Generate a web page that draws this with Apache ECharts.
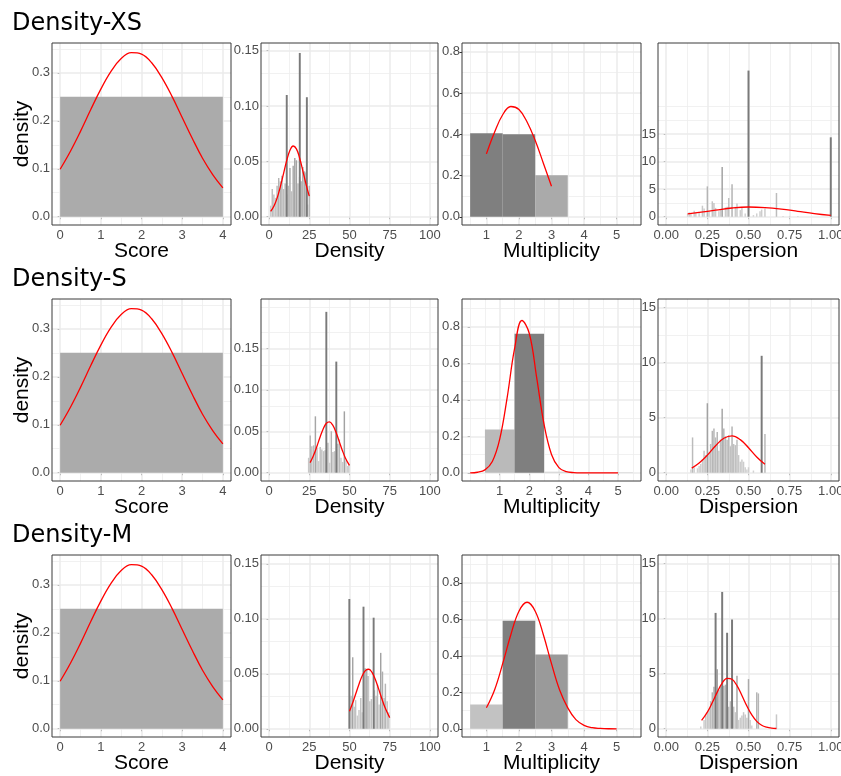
<!DOCTYPE html>
<html>
<head>
<meta charset="utf-8">
<script src="https://cdn.jsdelivr.net/npm/echarts@6/dist/echarts.min.js"></script>
<style>
  html, body { margin: 0; padding: 0; background: #fff; }
  #main { width: 841px; height: 776px; }
</style>
</head>
<body>
<div id="main"></div>
<script>
// ---- texts ----
const rowTitles = ['Density-XS', 'Density-S', 'Density-M'];
const xTitles = ['Score', 'Density', 'Multiplicity', 'Dispersion'];
const yTitle = 'density';

// ---- tick labels ----
const scoreTicks = [0, 1, 2, 3, 4];
const densityTicks = [0, 25, 50, 75, 100];
const multiplicityTicks = [1, 2, 3, 4, 5];
const dispersionTicks = [0, 0.25, 0.5, 0.75, 1];
const scoreYTicks = [0, 0.1, 0.2, 0.3];
const densityYTicks = [0, 0.05, 0.1, 0.15];
const multiplicityYTicks = [0, 0.2, 0.4, 0.6, 0.8];
const dispersionYTicks = [0, 5, 10, 15];

// ---- Score (same in every row) ----
const scoreBinStart = [0];
const scoreBinEnd = [4];
const scoreHeight = [0.25];
const scoreCurveX = [0, 0.25, 0.5, 0.75, 1, 1.25, 1.5, 1.75, 2, 2.25, 2.5, 2.75, 3, 3.25, 3.5, 3.75, 4];
const scoreCurveY = [0.099, 0.136, 0.178, 0.223, 0.266, 0.303, 0.330, 0.342, 0.339, 0.321, 0.290, 0.251, 0.207, 0.163, 0.122, 0.088, 0.060];

// ---- Density ----
const densityXsX = [1, 2, 3, 4, 5, 6, 7, 8, 9, 10, 11, 12, 13, 14, 15, 16, 17, 18, 19, 20, 21, 22, 23, 24, 25];
const densityXsY = [0.010, 0.025, 0.020, 0.017, 0.028, 0.035, 0.032, 0.037, 0.025, 0.030, 0.020, 0.028, 0.044, 0.023, 0.046, 0.053, 0.051, 0.030, 0.036, 0.032, 0.045, 0.041, 0.040, 0.011, 0.028];
const densityXsSpikeX = [11.0, 19.1, 23.5];
const densityXsSpikeY = [0.110, 0.148, 0.108];
const densityXsCurveX = [1, 3, 5, 7, 9, 11, 13, 15, 17, 19, 21, 23, 25];
const densityXsCurveY = [0.0048, 0.0094, 0.0168, 0.0270, 0.0390, 0.0509, 0.0601, 0.0639, 0.0613, 0.0531, 0.0415, 0.0293, 0.0186];

const densitySX = [24.6, 25.6, 26.6, 27.7, 28.8, 29.8, 30.8, 31.8, 32.8, 33.9, 34.8, 36.6, 37.6, 38.7, 39.7, 40.7, 42.7, 43.7, 44.7, 45.7, 46.8, 47.8, 48.9, 49.6];
const densitySY = [0.018, 0.045, 0.032, 0.033, 0.068, 0.030, 0.014, 0.031, 0.028, 0.026, 0.027, 0.036, 0.012, 0.050, 0.025, 0.026, 0.035, 0.040, 0.018, 0.013, 0.074, 0.015, 0.008, 0.010];
const densitySSpikeX = [35.6, 41.8];
const densitySSpikeY = [0.194, 0.134];
const densitySCurveX = [25.5, 27.5, 29.5, 31.5, 33.5, 35.5, 37.5, 39.5, 41.5, 43.5, 45.5, 47.5, 50];
const densitySCurveY = [0.0122, 0.0202, 0.0304, 0.0418, 0.0522, 0.0593, 0.0613, 0.0577, 0.0493, 0.0384, 0.0272, 0.0175, 0.0088];

const densityMX = [51, 52, 53, 53.8, 54.9, 55.9, 57, 57.8, 59.7, 60.7, 61.5, 62.6, 63.6, 65.5, 66.5, 67.4, 68.4, 69.4, 70.5, 71.5, 72.3, 73.4, 74.4];
const densityMY = [0.030, 0.065, 0.020, 0.026, 0.012, 0.017, 0.028, 0.015, 0.055, 0.054, 0.048, 0.025, 0.027, 0.035, 0.030, 0.040, 0.022, 0.069, 0.052, 0.028, 0.041, 0.025, 0.015];
const densityMSpikeX = [49.9, 58.7, 65.0];
const densityMSpikeY = [0.118, 0.111, 0.101];
const densityMCurveX = [50, 52, 54, 56, 58, 60, 62, 64, 66, 68, 70, 72, 75];
const densityMCurveY = [0.0160, 0.0236, 0.0323, 0.0410, 0.0484, 0.0531, 0.0541, 0.0512, 0.0450, 0.0367, 0.0278, 0.0196, 0.0101];

// ---- Multiplicity ----
const multiplicityBinStart = [0.5, 1.5, 2.5, 3.5, 4.5];
const multiplicityBinEnd = [1.5, 2.5, 3.5, 4.5, 5.5];
const multiplicityXsY = [0.405, 0.400, 0.201];
const multiplicitySY = [0.237, 0.762, 0.006, 0.003, 0.003];
const multiplicityMY = [0.133, 0.593, 0.407, 0.003, 0.003];
const multiplicityXsCurveX = [1, 1.25, 1.5, 1.75, 2, 2.25, 2.5, 2.75, 3];
const multiplicityXsCurveY = [0.305, 0.410, 0.495, 0.535, 0.520, 0.460, 0.370, 0.260, 0.148];
const multiplicitySCurveX = [0, 0.25, 0.5, 0.75, 1, 1.25, 1.5, 1.75, 2, 2.25, 2.5, 2.75, 3, 3.25, 3.5, 3.75, 4, 4.25, 4.5, 4.75, 5];
const multiplicitySCurveY = [0, 0.003, 0.016, 0.062, 0.185, 0.411, 0.679, 0.835, 0.764, 0.521, 0.264, 0.100, 0.028, 0.006, 0.001, 0, 0, 0, 0, 0, 0];
const multiplicityMCurveX = [1, 1.25, 1.5, 1.75, 2, 2.25, 2.5, 2.75, 3, 3.25, 3.5, 3.75, 4, 4.25, 4.5, 4.75, 5];
const multiplicityMCurveY = [0.115, 0.213, 0.357, 0.516, 0.645, 0.694, 0.645, 0.516, 0.357, 0.213, 0.115, 0.050, 0.019, 0.006, 0.002, 0.0003, 0];

// ---- Dispersion ----
const dispersionXsX = [0.13, 0.14, 0.15, 0.17, 0.18, 0.20, 0.22, 0.23, 0.25, 0.26, 0.28, 0.29, 0.30, 0.32, 0.33, 0.34, 0.36, 0.37, 0.38, 0.40, 0.42, 0.43, 0.45, 0.46, 0.48, 0.53, 0.55, 0.57, 0.58, 0.60, 0.67, 0.71, 0.75, 0.80];
const dispersionXsY = [0.5, 0.8, 0.6, 1.1, 0.7, 0.8, 2.0, 1.5, 5.5, 1.0, 2.8, 2.5, 1.6, 1.0, 1.2, 9.0, 1.7, 1.8, 3.4, 5.9, 1.8, 2.4, 1.2, 1.6, 0.6, 0.3, 0.6, 1.0, 1.3, 1.5, 4.3, 0.15, 0.15, 0.15];
const dispersionXsSpikeX = [0.5, 1.0];
const dispersionXsSpikeY = [26.5, 14.4];
const dispersionXsCurveX = [0.13, 0.2, 0.3, 0.4, 0.5, 0.6, 0.7, 0.8, 0.9, 1.0];
const dispersionXsCurveY = [0.50, 0.78, 1.18, 1.58, 1.76, 1.66, 1.38, 0.98, 0.58, 0.24];

const dispersionSX = [0.15, 0.16, 0.17, 0.19, 0.20, 0.21, 0.22, 0.23, 0.24, 0.25, 0.26, 0.27, 0.28, 0.29, 0.30, 0.31, 0.32, 0.33, 0.34, 0.35, 0.36, 0.37, 0.38, 0.39, 0.40, 0.41, 0.42, 0.43, 0.44, 0.45, 0.46, 0.47, 0.48, 0.49, 0.50, 0.53, 0.60];
const dispersionSY = [0.3, 3.2, 0.5, 0.4, 0.6, 0.8, 1.2, 2.0, 1.6, 6.3, 1.8, 2.6, 3.8, 4.0, 3.2, 3.7, 2.0, 3.0, 5.8, 4.0, 3.3, 3.0, 3.4, 2.4, 4.2, 2.6, 2.5, 3.0, 1.6, 1.0, 1.2, 1.0, 0.5, 0.3, 0.5, 0.2, 3.5];
const dispersionSSpikeX = [0.58];
const dispersionSSpikeY = [10.6];
const dispersionSCurveX = [0.155, 0.2, 0.25, 0.3, 0.35, 0.4, 0.45, 0.5, 0.55, 0.6];
const dispersionSCurveY = [0.42, 0.88, 1.60, 2.45, 3.13, 3.35, 3.00, 2.27, 1.43, 0.76];

const dispersionMX = [0.21, 0.23, 0.24, 0.25, 0.26, 0.27, 0.28, 0.29, 0.31, 0.32, 0.33, 0.35, 0.36, 0.38, 0.39, 0.41, 0.42, 0.43, 0.44, 0.45, 0.46, 0.47, 0.48, 0.49, 0.50, 0.51, 0.52, 0.55, 0.56, 0.67];
const dispersionMY = [0.2, 0.8, 1.2, 1.5, 1.8, 2.5, 3.3, 3.8, 5.4, 3.5, 3.8, 3.9, 4.0, 2.0, 2.5, 2.0, 1.5, 4.8, 0.8, 1.0, 1.2, 1.5, 1.3, 1.0, 4.5, 0.8, 0.3, 3.3, 3.2, 1.3];
const dispersionMSpikeX = [0.30, 0.34, 0.37, 0.40];
const dispersionMSpikeY = [10.5, 12.4, 8.7, 9.9];
const dispersionMCurveX = [0.215, 0.25, 0.28, 0.31, 0.34, 0.37, 0.40, 0.43, 0.46, 0.49, 0.52, 0.55, 0.58, 0.61, 0.64, 0.67];
const dispersionMCurveY = [0.75, 1.50, 2.37, 3.32, 4.14, 4.57, 4.48, 3.90, 3.01, 2.06, 1.25, 0.67, 0.32, 0.14, 0.05, 0.02];

// ---- layout ----
const colLeft = [52, 261, 462, 658];
const colWidth = [179, 177, 179, 181];
const rowTop = [43, 299, 555];
const panelHeight = 182;

const xRange = [
  [[-0.2, 4.2], [-5, 105], [0.25, 5.75], [-0.05, 1.05]],
  [[-0.2, 4.2], [-5, 105], [-0.275, 5.775], [-0.05, 1.05]],
  [[-0.2, 4.2], [-5, 105], [0.25, 5.75], [-0.05, 1.05]]
];
const yRange = [
  [[-0.01725, 0.36225], [-0.0075, 0.157], [-0.04, 0.843], [-1.5, 31.5]],
  [[-0.01725, 0.36225], [-0.01, 0.2095], [-0.045, 0.953], [-0.75, 15.75]],
  [[-0.01725, 0.36225], [-0.0075, 0.158], [-0.045, 0.953], [-0.75, 15.75]]
];
const xTickSets = [scoreTicks, densityTicks, multiplicityTicks, dispersionTicks];
const yTickSets = [scoreYTicks, densityYTicks, multiplicityYTicks, dispersionYTicks];
const xFormat = [v => String(v), v => String(v), v => String(v), v => v.toFixed(2)];
const yFormat = [v => v.toFixed(1), v => v.toFixed(2), v => v.toFixed(1), v => String(v)];

const densityRows = [
  [densityXsX, densityXsY, densityXsSpikeX, densityXsSpikeY, densityXsCurveX, densityXsCurveY],
  [densitySX, densitySY, densitySSpikeX, densitySSpikeY, densitySCurveX, densitySCurveY],
  [densityMX, densityMY, densityMSpikeX, densityMSpikeY, densityMCurveX, densityMCurveY]
];
const dispersionRows = [
  [dispersionXsX, dispersionXsY, dispersionXsSpikeX, dispersionXsSpikeY, dispersionXsCurveX, dispersionXsCurveY],
  [dispersionSX, dispersionSY, dispersionSSpikeX, dispersionSSpikeY, dispersionSCurveX, dispersionSCurveY],
  [dispersionMX, dispersionMY, dispersionMSpikeX, dispersionMSpikeY, dispersionMCurveX, dispersionMCurveY]
];
const multiplicityRows = [
  [multiplicityXsY, multiplicityXsCurveX, multiplicityXsCurveY],
  [multiplicitySY, multiplicitySCurveX, multiplicitySCurveY],
  [multiplicityMY, multiplicityMCurveX, multiplicityMCurveY]
];

const grey = v => { v = Math.round(v); return 'rgb(' + v + ',' + v + ',' + v + ')'; };
const tickFont = 'Liberation Sans, Arial, sans-serif';

// ggplot-like grid breaks: majors at ticks, minors halfway (plus one extended step)
function gridLines(ticks, min, max) {
  const step = ticks[1] - ticks[0];
  const b = ticks.slice();
  if (min < b[0]) b.unshift(b[0] - step);
  if (max > b[b.length - 1]) b.push(b[b.length - 1] + step);
  const minor = [];
  for (let i = 0; i < b.length - 1; i++) minor.push(b[i] + step / 2);
  minor.push(b[0], b[b.length - 1]);
  const inside = v => v >= min && v <= max;
  return {
    major: ticks.filter(inside),
    minor: minor.filter(v => inside(v) && ticks.indexOf(v) < 0)
  };
}

function histRender(colorOf) {
  return function (params, api) {
    const a = api.coord([api.value(0), api.value(2)]);
    const b = api.coord([api.value(1), 0]);
    return {
      type: 'rect',
      shape: { x: a[0], y: a[1], width: b[0] - a[0], height: b[1] - a[1] },
      style: { fill: colorOf(api.value(2)) }
    };
  };
}

const grids = [], xAxes = [], yAxes = [], series = [], titles = [];

rowTitles.forEach((t, r) => {
  titles.push({
    text: t, left: 12, top: rowTop[r] - 31, padding: 0,
    textStyle: { fontFamily: 'DejaVu Sans', fontSize: 24, fontWeight: 'normal', color: '#000' }
  });
});

for (let r = 0; r < 3; r++) {
  for (let c = 0; c < 4; c++) {
    const idx = grids.length;
    const [xMin, xMax] = xRange[r][c];
    const [yMin, yMax] = yRange[r][c];
    grids.push({
      left: colLeft[c], top: rowTop[r], width: colWidth[c], height: panelHeight,
      show: true, backgroundColor: 'transparent', borderColor: '#3a3a3a', borderWidth: 1,
      z: 20, containLabel: false, outerBoundsMode: 'none'
    });
    xAxes.push({
      type: 'value', gridIndex: idx, min: xMin, max: xMax,
      axisLine: { show: false }, splitLine: { show: false },
      axisTick: { show: true, length: 2.5, lineStyle: { color: '#333' }, customValues: xTickSets[c] },
      axisLabel: { customValues: xTickSets[c], formatter: xFormat[c], color: '#4d4d4d', fontSize: 13, fontFamily: tickFont, margin: 4 },
      name: xTitles[c], nameLocation: 'middle', nameGap: 16, nameMoveOverlap: false,
      nameTextStyle: { color: '#000', fontSize: 21, fontFamily: tickFont }
    });
    const yAxis = {
      type: 'value', gridIndex: idx, min: yMin, max: yMax,
      axisLine: { show: false }, splitLine: { show: false },
      axisTick: { show: true, length: 2.5, lineStyle: { color: '#333' }, customValues: yTickSets[c] },
      axisLabel: { customValues: yTickSets[c], formatter: yFormat[c], color: '#4d4d4d', fontSize: 13, fontFamily: tickFont, margin: 2 }
    };
    if (c === 0) {
      Object.assign(yAxis, {
        name: yTitle, nameLocation: 'middle', nameRotate: 90, nameGap: 19, nameMoveOverlap: false,
        nameTextStyle: { color: '#000', fontSize: 21, fontFamily: tickFont }
      });
    }
    yAxes.push(yAxis);

    // background grid
    const gx = gridLines(xTickSets[c], xMin, xMax);
    const gy = gridLines(yTickSets[c], yMin, yMax);
    const majorStyle = { type: 'solid', color: '#ebebeb', width: 1.5 };
    const minorStyle = { type: 'solid', color: '#ededed', width: 0.8 };
    series.push({
      type: 'line', xAxisIndex: idx, yAxisIndex: idx, data: [], z: 1, silent: true,
      markLine: {
        z: 1, silent: true, symbol: ['none', 'none'], animation: false, label: { show: false },
        data: [].concat(
          gx.minor.map(v => ({ xAxis: v, lineStyle: minorStyle })),
          gy.minor.map(v => ({ yAxis: v, lineStyle: minorStyle })),
          gx.major.map(v => ({ xAxis: v, lineStyle: majorStyle })),
          gy.major.map(v => ({ yAxis: v, lineStyle: majorStyle }))
        )
      }
    });

    let histData = [], spikeData = [], curve = [], colorOf = () => '#ababab', spikeColor = '#7a7a7a';
    if (c === 0) {
      histData = scoreBinStart.map((s, i) => [s, scoreBinEnd[i], scoreHeight[i]]);
      curve = scoreCurveX.map((x, i) => [x, scoreCurveY[i]]);
    } else if (c === 1 || c === 3) {
      const [bx, by, sx, sy, cx, cy] = (c === 1 ? densityRows : dispersionRows)[r];
      const bin = c === 1 ? 1 : 0.01;
      const maxLight = Math.max.apply(null, by);
      histData = bx.map((x, i) => [x - bin * 0.45, x + bin * 0.45, by[i]]);
      spikeData = sx.map((x, i) => [x - bin * 0.6, x + bin * 0.6, sy[i]]);
      curve = cx.map((x, i) => [x, cy[i]]);
      colorOf = h => grey(212 - 50 * h / maxLight);
    } else {
      const [hy, cx, cy] = multiplicityRows[r];
      const maxH = Math.max.apply(null, hy);
      histData = hy.map((h, i) => [multiplicityBinStart[i], multiplicityBinEnd[i], h]);
      curve = cx.map((x, i) => [x, cy[i]]);
      colorOf = h => grey(213 - 86 * h / maxH);
    }
    series.push({
      type: 'custom', xAxisIndex: idx, yAxisIndex: idx, z: 6, silent: true,
      renderItem: histRender(colorOf), data: histData
    });
    if (spikeData.length) {
      series.push({
        type: 'custom', xAxisIndex: idx, yAxisIndex: idx, z: 7, silent: true,
        renderItem: histRender(() => spikeColor), data: spikeData
      });
    }
    series.push({
      type: 'line', xAxisIndex: idx, yAxisIndex: idx, z: 8, silent: true,
      data: curve, smooth: 0.4, showSymbol: false, symbol: 'none',
      lineStyle: { color: '#ff0000', width: 1.3 }
    });
  }
}

const chart = echarts.init(document.getElementById('main'));
chart.setOption({
  animation: false,
  backgroundColor: '#fff',
  title: titles,
  grid: grids,
  xAxis: xAxes,
  yAxis: yAxes,
  series: series
});
</script>
</body>
</html>
